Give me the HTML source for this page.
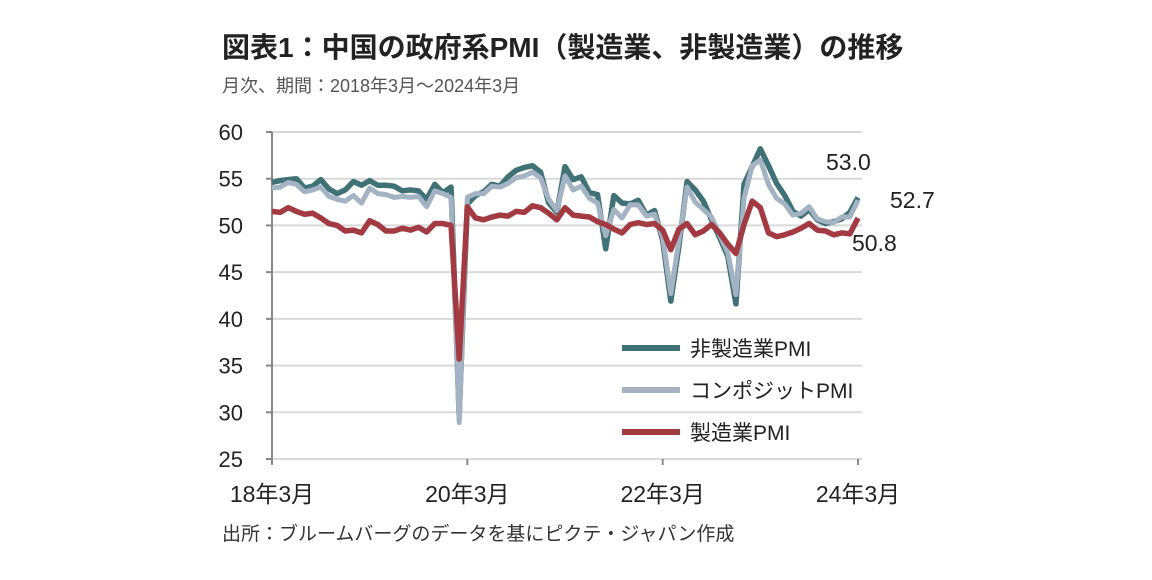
<!DOCTYPE html>
<html><head><meta charset="utf-8"><style>
body{margin:0;background:#fff;font-family:"Liberation Sans","Noto Sans CJK JP",sans-serif;}
#wrap{position:relative;width:1152px;height:580px;overflow:hidden;}
</style></head><body>
<div id="wrap">
<svg id="chart" width="1152" height="580" font-family="Liberation Sans, Noto Sans CJK JP, sans-serif">
<text x="222" y="57" font-size="28" font-weight="bold" fill="#222">図表1：中国の政府系PMI（製造業、非製造業）の推移</text>
<text x="222" y="92" font-size="18" fill="#555">月次、期間：2018年3月～2024年3月</text>
<text x="222" y="540" font-size="19" fill="#333">出所：ブルームバーグのデータを基にピクテ・ジャパン作成</text>
<g id="grid"></g><g id="axes"></g><g id="lines"></g><g id="legend"></g>
</svg>
</div>
<script>
const yTicks=[60,55,50,45,40,35,30,25];
const xTickLabels=["18年3月","20年3月","22年3月","24年3月"];
const xTickIdx=[0,24,48,72];
const nonMfg=[54.6,54.8,54.9,55.0,54.0,54.2,54.9,53.9,53.4,53.8,54.7,54.3,54.8,54.3,54.3,54.2,53.7,53.8,53.7,52.8,54.4,53.5,54.1,29.6,52.3,53.2,53.6,54.4,54.2,55.2,55.9,56.2,56.4,55.7,52.4,51.4,56.3,54.9,55.2,53.5,53.3,47.5,53.2,52.4,52.3,52.7,51.1,51.6,48.4,41.9,47.8,54.7,53.8,52.6,50.6,48.7,46.7,41.6,54.4,56.3,58.2,56.4,54.5,53.2,51.5,51.0,51.7,50.6,50.2,50.4,50.7,51.4,53.0];
const composite=[54.0,54.1,54.6,54.4,53.6,53.8,54.1,53.1,52.8,52.6,53.2,52.4,54.0,53.4,53.3,53.0,53.1,53.0,53.1,52.0,53.7,53.4,53.0,28.9,53.0,53.4,53.4,54.2,54.1,54.5,55.1,55.3,55.7,55.1,52.8,51.6,55.3,53.8,54.2,52.9,52.4,48.9,51.7,50.8,52.2,52.2,51.0,51.2,48.8,42.7,48.4,54.1,52.5,51.7,50.9,49.0,47.1,42.6,52.9,56.4,57.0,54.4,52.9,52.3,51.1,51.3,52.0,50.7,50.4,50.3,50.9,50.9,52.7];
const mfg=[51.5,51.4,51.9,51.5,51.2,51.3,50.8,50.2,50.0,49.4,49.5,49.2,50.5,50.1,49.4,49.4,49.7,49.5,49.8,49.3,50.2,50.2,50.0,35.7,52.0,50.8,50.6,50.9,51.1,51.0,51.5,51.4,52.1,51.9,51.3,50.6,51.9,51.1,51.0,50.9,50.4,50.1,49.6,49.2,50.1,50.3,50.1,50.2,49.5,47.4,49.6,50.2,49.0,49.4,50.1,49.2,48.0,47.0,50.1,52.6,51.9,49.2,48.8,49.0,49.3,49.7,50.2,49.5,49.4,49.0,49.2,49.1,50.8];
const seriesNames=["非製造業PMI","コンポジットPMI","製造業PMI"];
const NS="http://www.w3.org/2000/svg";
const X0=272,X1=858,Y60=132,Y25=459;
const xs=i=>X0+(X1-X0)*i/72;
const ys=v=>Y60+(60-v)*(Y25-Y60)/35;
function mk(t,a,p){const e=document.createElementNS(NS,t);for(const k in a)e.setAttribute(k,a[k]);p.appendChild(e);return e;}
const grid=document.getElementById('grid'),axes=document.getElementById('axes'),lines=document.getElementById('lines'),legend=document.getElementById('legend');
yTicks.forEach(v=>{
 const l=mk('line',{x1:X0,x2:862,y1:ys(v),y2:ys(v),stroke:'#d9d9d9','stroke-width':2},grid);
 
 
 const t=mk('text',{x:243,y:ys(v)+8,'font-size':22,'text-anchor':'end',fill:'#222'},axes);t.textContent=v;
 
 
 mk('line',{x1:X0-6,x2:X0,y1:ys(v),y2:ys(v),stroke:'#888','stroke-width':2},axes);
});
const ax=mk('line',{x1:X0,x2:X0,y1:Y60,y2:Y25+6,stroke:'#888','stroke-width':2},axes);


xTickIdx.forEach((k,j)=>{
 mk('line',{x1:xs(k),x2:xs(k),y1:Y25,y2:Y25+6,stroke:'#888','stroke-width':2},axes);
 const t=mk('text',{x:xs(k),y:502,'font-size':23,'text-anchor':'middle',fill:'#222'},axes);t.textContent=xTickLabels[j];
 
 
});
const colors=['#3f7276','#a3b3c4','#a33a42'];
[nonMfg,composite,mfg].forEach((arr,s)=>{
 const p=mk('polyline',{points:arr.map((v,i)=>xs(i)+','+ys(v)).join(' '),fill:'none',stroke:colors[s],'stroke-width':s==1?5:5.5,'stroke-linejoin':'round'},lines);
 
 
 const ly=348+s*42;
 mk('line',{x1:622,x2:680,y1:ly,y2:ly,stroke:colors[s],'stroke-width':6},legend);
 const t=mk('text',{x:690,y:ly+8,'font-size':21,fill:'#222'},legend);t.textContent=seriesNames[s];
 
 
});
const lbl=[[nonMfg,826,170],[composite,890,208],[mfg,852,251]];
lbl.forEach(([arr,x,y])=>{const t=mk('text',{x:x,y:y,'font-size':23,fill:'#222'},lines);t.textContent=arr[72].toFixed(1);
 
 });
</script>
</body></html>
